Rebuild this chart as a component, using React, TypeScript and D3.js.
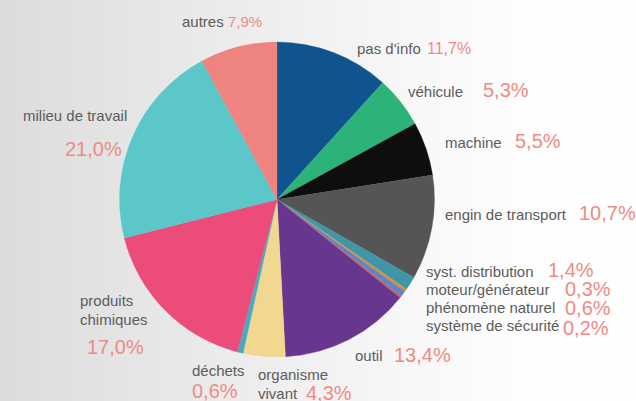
import React from "react";
import * as d3 from "d3";

const categories = [
  "pas d'info",
  "véhicule",
  "machine",
  "engin de transport",
  "syst. distribution",
  "moteur/générateur",
  "phénomène naturel",
  "système de sécurité",
  "outil",
  "organisme vivant",
  "déchets",
  "produits chimiques",
  "milieu de travail",
  "autres",
];

const values = [11.7, 5.3, 5.5, 10.7, 1.4, 0.3, 0.6, 0.2, 13.4, 4.3, 0.6, 17.0, 21.0, 7.9];

const colors = [
  "#10548f",
  "#2db37a",
  "#0e0e0e",
  "#555555",
  "#3e96a8",
  "#e08b3e",
  "#5d86c4",
  "#d55f5a",
  "#67368e",
  "#f1d78f",
  "#4aa9c1",
  "#ec4c7a",
  "#5bc7c9",
  "#ef837f",
];

// label layout: lines of the name, name position, percent position, percent size
type LabelLayout = { lines: string[]; lx: number; ly: number; px: number; py: number; ps: number };
const labelLayout: LabelLayout[] = [
  { lines: ["pas d'info"], lx: 357, ly: 54, px: 427, py: 54, ps: 16 },
  { lines: ["véhicule"], lx: 408, ly: 97, px: 483, py: 97, ps: 20 },
  { lines: ["machine"], lx: 445, ly: 148, px: 515, py: 148, ps: 20 },
  { lines: ["engin de transport"], lx: 445, ly: 220, px: 579, py: 220, ps: 20 },
  { lines: ["syst. distribution"], lx: 426, ly: 277, px: 548, py: 277, ps: 20 },
  { lines: ["moteur/générateur"], lx: 426, ly: 295, px: 565, py: 296, ps: 20 },
  { lines: ["phénomène naturel"], lx: 426, ly: 313, px: 565, py: 315, ps: 20 },
  { lines: ["système de sécurité"], lx: 426, ly: 331, px: 563, py: 335, ps: 20 },
  { lines: ["outil"], lx: 355, ly: 361, px: 394, py: 362, ps: 20 },
  { lines: ["organisme", "vivant"], lx: 258, ly: 380, px: 306, py: 400, ps: 20 },
  { lines: ["déchets"], lx: 192, ly: 376, px: 192, py: 398, ps: 20 },
  { lines: ["produits", "chimiques"], lx: 80, ly: 306, px: 87, py: 354, ps: 20 },
  { lines: ["milieu de travail"], lx: 23, ly: 121, px: 65, py: 156, ps: 20 },
  { lines: ["autres"], lx: 182, ly: 27, px: 228, py: 27, ps: 15 },
];

const W = 636;
const H = 401;
const cx = 277;
const cy = 199.5;
const R = 157.5;

const fmt = (v: number) => v.toFixed(1).replace(".", ",") + "%";

export default function App() {
  const data = categories.map((c, i) => ({ name: c, value: values[i], color: colors[i], i }));
  const pie = d3
    .pie<(typeof data)[number]>()
    .value((d) => d.value)
    .sort(null)
    .startAngle(0)
    .endAngle(2 * Math.PI);
  const arcs = pie(data);
  const arc = d3.arc<d3.PieArcDatum<(typeof data)[number]>>().innerRadius(0).outerRadius(R);

  const font = "'Liberation Sans', Arial, sans-serif";

  return (
    <svg
      width={W}
      height={H}
      style={{ position: "fixed", left: 0, top: 0, display: "block" }}
      fontFamily={font}
    >
      <defs>
        <linearGradient id="bg" x1="0" x2="1" y1="0" y2="0">
          <stop offset="0" stopColor="#dcdcdc" />
          <stop offset="0.55" stopColor="#f4f4f4" />
          <stop offset="0.8" stopColor="#fdfdfd" />
          <stop offset="1" stopColor="#ffffff" />
        </linearGradient>
      </defs>
      <rect x={0} y={0} width={W} height={H} fill="url(#bg)" />
      <g transform={`translate(${cx},${cy})`}>
        {arcs.map((a) => (
          <path key={a.data.name} d={arc(a) || ""} fill={a.data.color} stroke={a.data.color} strokeWidth={0.3} />
        ))}
      </g>
      {data.map((d, i) => {
        const L = labelLayout[i];
        return (
          <g key={d.name}>
            <text x={L.lx} y={L.ly} fontSize={15} fill="#5c5c5c">
              {L.lines.map((ln, k) => (
                <tspan key={k} x={L.lx} dy={k === 0 ? 0 : 19}>
                  {ln}
                </tspan>
              ))}
            </text>
            <text x={L.px} y={L.py} fontSize={L.ps} fill="#f08a84">
              {fmt(d.value)}
            </text>
          </g>
        );
      })}
    </svg>
  );
}
